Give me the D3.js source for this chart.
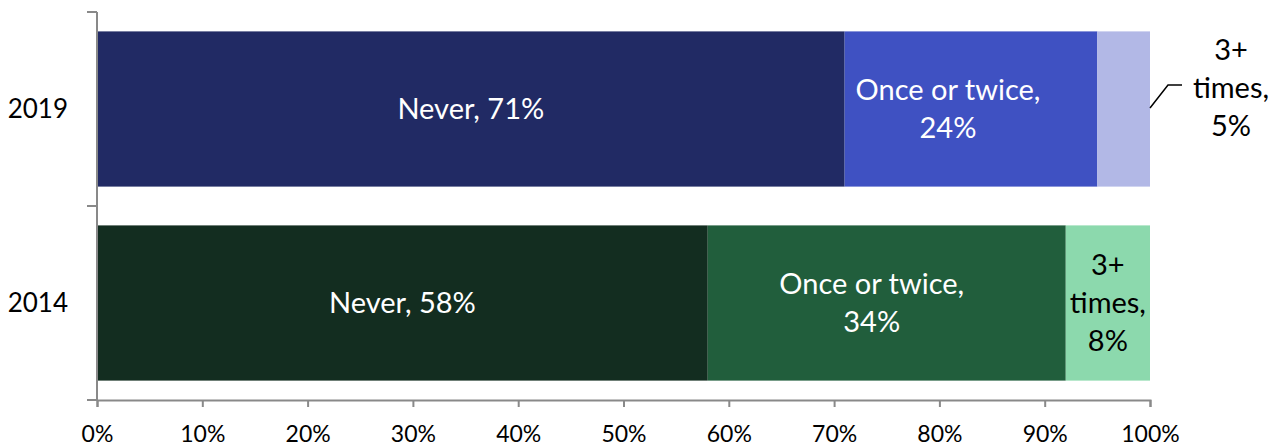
<!DOCTYPE html>
<html>
<head>
<meta charset="utf-8">
<script src="https://cdn.jsdelivr.net/npm/d3@7"></script>
<style>
  body { margin: 0; background: #fff; }
  text { font-family: Lato, "Open Sans", sans-serif; }
</style>
</head>
<body>
<div id="chart"></div>
<script>
// data
var years = ["2019", "2014"];
var categories = ["Never", "Once or twice", "3+ times"];
var values2019 = [71, 24, 5];
var values2014 = [58, 34, 8];
var xTicks = [0, 10, 20, 30, 40, 50, 60, 70, 80, 90, 100];

var colors = {
    "2019": ["#212a64", "#3f51c2", "#b2b8e6"],
    "2014": ["#132d20", "#215e3c", "#8cd9ad"]
};

var margin = { top: 12, right: 132, bottom: 46, left: 97 },
    width = 1282 - margin.left - margin.right,
    height = 446 - margin.top - margin.bottom;

var svg = d3.select("#chart").append("svg")
    .attr("width", 1282)
    .attr("height", 446)
    .append("g")
    .attr("transform", "translate(" + margin.left + "," + margin.top + ")");

var x = d3.scaleLinear().domain([0, 100]).range([0, width]);
var y = d3.scaleBand().domain(years).range([0, height])
    .paddingInner(0.2).paddingOuter(0.1);
var yTicks = d3.scaleBand().domain(years).range([0, height]);

var rows = years.map(function (yr) {
    var vals = yr == "2019" ? values2019 : values2014;
    var x0 = 0;
    return {
        year: yr,
        boxes: vals.map(function (v, i) {
            return { name: categories[i], value: v, x0: x0, x1: x0 += v, color: colors[yr][i], idx: i, year: yr };
        })
    };
});

var row = svg.selectAll(".row")
    .data(rows)
    .enter().append("g")
    .attr("class", "row")
    .attr("transform", function (d) { return "translate(0," + y(d.year) + ")"; });

row.selectAll("rect")
    .data(function (d) { return d.boxes; })
    .enter().append("rect")
    .attr("x", function (d) { return x(d.x0); })
    .attr("width", function (d) { return x(d.x1) - x(d.x0); })
    .attr("height", y.bandwidth())
    .style("fill", function (d) { return d.color; });

// labels
var lineH = 38;
row.selectAll(".lbl")
    .data(function (d) { return d.boxes; })
    .enter().append("text")
    .attr("class", "lbl")
    .attr("text-anchor", "middle")
    .style("font-size", "29px")
    .attr("fill", function (d) { return d.idx == 2 ? "#000" : "#fff"; })
    .each(function (d) {
        var lines;
        if (d.idx == 0) lines = [d.name + ", " + d.value + "%"];
        else if (d.idx == 1) lines = ["Once or twice,", d.value + "%"];
        else lines = ["3+", "times,", d.value + "%"];
        var cx = (x(d.x0) + x(d.x1)) / 2;
        var cy = y.bandwidth() / 2;
        // the two-line labels were nudged left in the original
        if (d.idx == 1) cx -= d.year == "2019" ? 23 : 15;
        // 2019 small segment: label sits outside, right of bar
        if (d.idx == 2 && d.year == "2019") {
            cx = x(100) + 81;
            cy = y.bandwidth() / 2 - 21;
        }
        var t = d3.select(this);
        lines.forEach(function (l, i) {
            t.append("tspan")
                .attr("x", cx)
                .attr("y", cy + (i - (lines.length - 1) / 2) * lineH)
                .attr("dy", "0.35em")
                .text(l);
        });
    });

// leader line for 2019 outside label
var b2019 = y("2019") + y.bandwidth() / 2;
svg.append("polyline")
    .attr("points", [
        [x(100), b2019 - 1],
        [x(100) + 18, b2019 - 24],
        [x(100) + 32, b2019 - 24]
    ].map(function (p) { return p.join(","); }).join(" "))
    .style("fill", "none")
    .style("stroke", "#000")
    .style("stroke-width", 1.5);

// axes
var xAxis = d3.axisBottom(x).tickValues(xTicks)
    .tickFormat(function (d) { return d + "%"; })
    .tickSizeInner(7).tickSizeOuter(7).tickPadding(19);

svg.append("g")
    .attr("class", "x axis")
    .attr("transform", "translate(0," + height + ")")
    .call(xAxis);

var yAxis = svg.append("g").attr("class", "y axis");
yAxis.append("line")
    .attr("x1", 0).attr("x2", 0)
    .attr("y1", 0).attr("y2", height);
yAxis.selectAll(".ytick")
    .data([0].concat(years.map(function (d) { return yTicks(d) + yTicks.bandwidth(); })))
    .enter().append("line")
    .attr("x1", -10).attr("x2", 0)
    .attr("y1", function (d) { return d; })
    .attr("y2", function (d) { return d; });
yAxis.selectAll(".ylbl")
    .data(years)
    .enter().append("text")
    .attr("x", -29)
    .attr("y", function (d) { return y(d) + y.bandwidth() / 2; })
    .attr("dy", "0.35em")
    .attr("text-anchor", "end")
    .style("font-size", "26px")
    .attr("fill", "#000")
    .text(function (d) { return d; });

d3.selectAll(".axis path, .axis line")
    .style("fill", "none")
    .style("stroke", "#898989")
    .style("stroke-width", 2);

d3.selectAll(".x.axis text")
    .style("font-size", "23px")
    .style("font-family", "Lato, sans-serif")
    .attr("fill", "#000");
</script>
</body>
</html>
